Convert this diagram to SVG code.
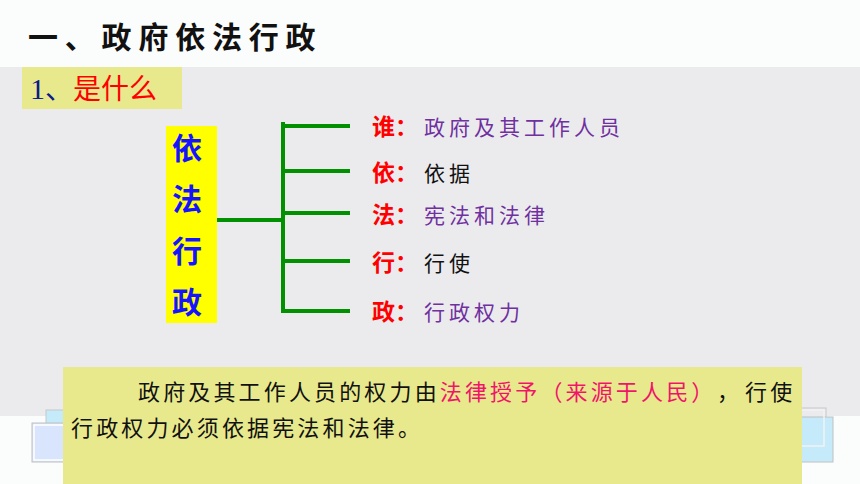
<svg xmlns="http://www.w3.org/2000/svg" width="860" height="484" viewBox="0 0 860 484">
  <style>
    .cjk { font-family: "Noto Sans CJK SC", "Noto Sans", sans-serif; }
    .key { font-family: "Noto Sans CJK SC", sans-serif; font-size: 23px; font-weight: bold; fill: #ff0000; }
    .val { font-family: "Noto Sans CJK SC", sans-serif; font-size: 21px; letter-spacing: 4px; }
    .purple { fill: #7030a0; }
    .black { fill: #111111; }
    .vert { font-family: "Noto Sans CJK SC", sans-serif; font-size: 30px; font-weight: bold; fill: #1414ff; }
    .conn { stroke: #009000; stroke-width: 4; fill: none; }
    .note { font-family: "Noto Sans CJK SC", sans-serif; font-size: 22px; letter-spacing: 3.15px; fill: #111111; }
  </style>
  <!-- backgrounds -->
  <rect x="0" y="0" width="860" height="484" fill="#fbfcfc"/>
  <rect x="0" y="67" width="860" height="349" fill="#ebebee"/>

  <!-- title -->
  <g id="title">
    <text x="28" y="48" class="cjk" font-size="30" font-weight="bold" letter-spacing="6.8" fill="#111111">一、政府依法行政</text>
  </g>

  <!-- subtitle label -->
  <g id="label-what">
    <rect x="22" y="67" width="160" height="42" fill="#e8e98c"/>
    <text x="30" y="99" font-size="28"><tspan font-family="Liberation Serif, serif" font-size="30" fill="#0b1a8c">1</tspan><tspan class="cjk" fill="#0b1a8c">、</tspan><tspan class="cjk" fill="#ff0000">是什么</tspan></text>
  </g>

  <!-- vertical yellow node -->
  <g id="node-yifaxingzheng">
    <rect x="166" y="126" width="51" height="197" fill="#ffff00"/>
    <text x="187" y="159" class="vert" text-anchor="middle">依</text>
    <text x="187" y="210" class="vert" text-anchor="middle">法</text>
    <text x="187" y="262" class="vert" text-anchor="middle">行</text>
    <text x="187" y="313" class="vert" text-anchor="middle">政</text>
  </g>

  <!-- connectors -->
  <g id="connectors">
    <line class="conn" x1="217" y1="220" x2="283" y2="220"/>
    <line class="conn" x1="283" y1="122" x2="283" y2="313"/>
    <line class="conn" x1="283" y1="126" x2="350" y2="126"/>
    <line class="conn" x1="283" y1="171" x2="350" y2="171"/>
    <line class="conn" x1="283" y1="213" x2="350" y2="213"/>
    <line class="conn" x1="283" y1="261" x2="350" y2="261"/>
    <line class="conn" x1="283" y1="311" x2="350" y2="311"/>
  </g>

  <!-- branch nodes -->
  <g id="node-shui">
    <text x="372" y="135" class="key">谁：</text>
    <text x="424" y="135" class="val purple">政府及其工作人员</text>
  </g>
  <g id="node-yi">
    <text x="372" y="181" class="key">依：</text>
    <text x="424" y="181" class="val black">依据</text>
  </g>
  <g id="node-fa">
    <text x="372" y="223" class="key">法：</text>
    <text x="424" y="223" class="val purple">宪法和法律</text>
  </g>
  <g id="node-xing">
    <text x="372" y="271" class="key">行：</text>
    <text x="424" y="271" class="val black">行使</text>
  </g>
  <g id="node-zheng">
    <text x="372" y="320" class="key">政：</text>
    <text x="424" y="320" class="val purple">行政权力</text>
  </g>

  <!-- decorative icons -->
  <g id="icon-left">
    <rect x="46" y="410" width="26" height="20" fill="#c5eafa" stroke="#c8c8c8" stroke-width="1"/>
    <rect x="32" y="423" width="40" height="39" fill="#d8e5fc" stroke="#c0c0c0" stroke-width="1"/>
    <rect x="34" y="425" width="36" height="35" fill="none" stroke="#ffffff" stroke-width="1.5"/>
  </g>
  <g id="icon-right">
    <rect x="790" y="408" width="36" height="40" fill="#ebebee" stroke="#c8c8c8" stroke-width="1"/>
    <rect x="795" y="417" width="38" height="45" fill="#c5eafa" stroke="#c0c0c0" stroke-width="1"/>
    <rect x="792" y="410" width="32" height="36" fill="none" stroke="#f2f2f2" stroke-width="1.5"/>
  </g>

  <!-- bottom explanation box -->
  <g id="note">
    <rect x="63" y="367" width="739" height="117" fill="#e8e98c"/>
    <text x="138" y="400" class="note">政府及其工作人员的权力由<tspan fill="#f2136b">法律授予（来源于人民）</tspan><tspan x="717">，</tspan><tspan x="745">行使</tspan></text>
    <text x="71" y="436" class="note">行政权力必须依据宪法和法律。</text>
  </g>
</svg>
